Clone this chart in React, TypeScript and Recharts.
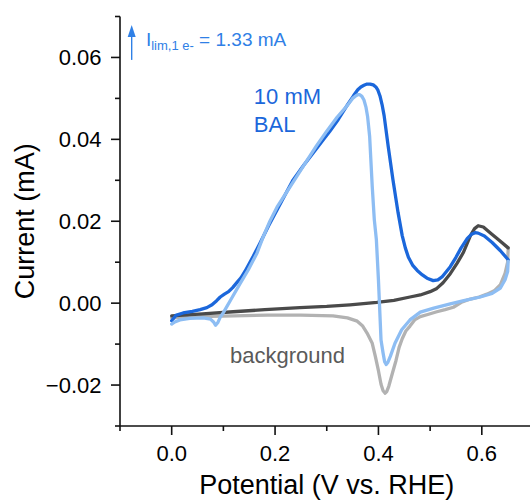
import React from 'react';
import { LineChart, Line, XAxis, YAxis, ReferenceDot } from 'recharts';

// ---- data (potential in V vs. RHE, current in mA) ----
const balForwardV = [0.000, 0.008, 0.022, 0.040, 0.055, 0.068, 0.078, 0.087, 0.094, 0.102, 0.110, 0.118, 0.126, 0.134, 0.142, 0.158, 0.171, 0.187, 0.204, 0.220, 0.235, 0.255, 0.274, 0.294, 0.306, 0.322, 0.340, 0.352, 0.360, 0.366, 0.372, 0.378, 0.384, 0.390, 0.395, 0.399, 0.403, 0.407, 0.411, 0.419, 0.428, 0.438, 0.446, 0.452, 0.458, 0.466, 0.475, 0.485, 0.494, 0.506, 0.515, 0.523, 0.539, 0.550, 0.560, 0.572, 0.580, 0.587, 0.593, 0.605, 0.620, 0.636, 0.651];
const balForwardI = [-0.0043, -0.0030, -0.0024, -0.0020, -0.0016, -0.0011, -0.0004, 0.0006, 0.0015, 0.0022, 0.0028, 0.0038, 0.0050, 0.0062, 0.0078, 0.0115, 0.0147, 0.0188, 0.0228, 0.0266, 0.0301, 0.0336, 0.0367, 0.0400, 0.0420, 0.0448, 0.0484, 0.0507, 0.0521, 0.0528, 0.0532, 0.0535, 0.0535, 0.0533, 0.0528, 0.0520, 0.0506, 0.0485, 0.0458, 0.0382, 0.0302, 0.0221, 0.0165, 0.0135, 0.0112, 0.0093, 0.0080, 0.0069, 0.0061, 0.0055, 0.0057, 0.0064, 0.0089, 0.0112, 0.0135, 0.0158, 0.0168, 0.0172, 0.0171, 0.0164, 0.0148, 0.0128, 0.0106];

const balReverseV = [0.651, 0.650, 0.645, 0.636, 0.620, 0.597, 0.565, 0.539, 0.507, 0.481, 0.461, 0.445, 0.432, 0.423, 0.418, 0.415, 0.412, 0.409, 0.405, 0.400, 0.396, 0.392, 0.388, 0.385, 0.383, 0.379, 0.376, 0.372, 0.368, 0.364, 0.360, 0.356, 0.350, 0.340, 0.320, 0.300, 0.280, 0.255, 0.229, 0.204, 0.190, 0.177, 0.165, 0.148, 0.132, 0.116, 0.100, 0.094, 0.089, 0.085, 0.081, 0.075, 0.061, 0.035, 0.016, 0.006, 0.000];
const balReverseI = [0.0102, 0.0077, 0.0057, 0.0037, 0.0024, 0.0015, 0.0006, -0.0002, -0.0012, -0.0022, -0.0041, -0.0065, -0.0098, -0.0130, -0.0145, -0.0150, -0.0143, -0.0122, -0.0090, 0.0057, 0.0155, 0.0204, 0.0285, 0.0358, 0.0407, 0.0456, 0.0478, 0.0496, 0.0505, 0.0509, 0.0509, 0.0506, 0.0500, 0.0483, 0.0454, 0.0420, 0.0384, 0.0335, 0.0284, 0.0235, 0.0200, 0.0162, 0.0122, 0.0081, 0.0047, 0.0012, -0.0023, -0.0034, -0.0048, -0.0054, -0.0046, -0.0039, -0.0036, -0.0037, -0.0041, -0.0046, -0.0051];

const bgForwardV = [0.000, 0.060, 0.119, 0.180, 0.248, 0.300, 0.345, 0.397, 0.430, 0.461, 0.481, 0.500, 0.513, 0.525, 0.539, 0.552, 0.564, 0.578, 0.586, 0.593, 0.603, 0.616, 0.633, 0.651];
const bgForwardI = [-0.0031, -0.0026, -0.0021, -0.0016, -0.0011, -0.0008, -0.0004, 0.0002, 0.0007, 0.0015, 0.0020, 0.0028, 0.0036, 0.0050, 0.0072, 0.0097, 0.0123, 0.0165, 0.0182, 0.0189, 0.0186, 0.0172, 0.0154, 0.0135];

const bgReverseV = [0.651, 0.650, 0.645, 0.636, 0.624, 0.610, 0.595, 0.578, 0.562, 0.545, 0.529, 0.513, 0.497, 0.481, 0.470, 0.461, 0.453, 0.446, 0.440, 0.434, 0.427, 0.420, 0.416, 0.413, 0.409, 0.405, 0.400, 0.394, 0.388, 0.378, 0.369, 0.359, 0.340, 0.312, 0.250, 0.185, 0.120, 0.055, 0.000];
const bgReverseI = [0.0132, 0.0100, 0.0073, 0.0045, 0.0030, 0.0022, 0.0015, 0.0010, 0.0003, -0.0010, -0.0016, -0.0021, -0.0027, -0.0033, -0.0041, -0.0056, -0.0068, -0.0087, -0.0108, -0.0140, -0.0171, -0.0203, -0.0216, -0.0220, -0.0214, -0.0198, -0.0165, -0.0130, -0.0098, -0.0073, -0.0055, -0.0044, -0.0036, -0.0031, -0.0029, -0.0029, -0.0031, -0.0033, -0.0036];

// ---- ticks ----
const xMajorTicks = [0, 0.2, 0.4, 0.6];
const xMajorLabels = ['0.0', '0.2', '0.4', '0.6'];
const xMinorTicks = [-0.1, 0.1, 0.3, 0.5, 0.7];
const yMajorTicks = [-0.02, 0, 0.02, 0.04, 0.06];
const yMajorLabels = ['\u22120.02', '0.00', '0.02', '0.04', '0.06'];
const yMinorTicks = [-0.03, -0.01, 0.01, 0.03, 0.05, 0.07];

const xDomain = [-0.1, 0.7];
const yDomain = [-0.03, 0.07];

// ---- annotation anchors (data coordinates) ----
const arrowAnchor = { v: -0.0774, i: 0.0594 };
const limAnchor = { v: -0.0498, i: 0.0627 };
const balLine1 = { v: 0.159, i: 0.0486, text: '10 mM' };
const balLine2 = { v: 0.159, i: 0.0418, text: 'BAL' };
const bgLabel = { v: 0.1128, i: -0.0146, text: 'background' };

const FONT = '"Liberation Sans", Arial, Helvetica, sans-serif';
const AX = '#111111';
const AXW = 1.6;
const MAJ = 9;
const MIN = 5;

const C_DARKBLUE = '#1b67db';
const C_LIGHTBLUE = '#8dbdf3';
const C_DARKGRAY = '#4a4a4a';
const C_LIGHTGRAY = '#b2b2b2';
const C_ANNOT = '#2f80e6';

const toPts = (vs: number[], is: number[]) => vs.map((v, k) => ({ v, i: is[k] }));
const balForward = toPts(balForwardV, balForwardI);
const balReverse = toPts(balReverseV, balReverseI);
const bgForward = toPts(bgForwardV, bgForwardI);
const bgReverse = toPts(bgReverseV, bgReverseI);

const allX = [...xMajorTicks, ...xMinorTicks].sort((a, b) => a - b);
const allY = [...yMajorTicks, ...yMinorTicks].sort((a, b) => a - b);

const findLabel = (v: number, majors: number[], labels: string[]) => {
  const k = majors.findIndex((m) => Math.abs(m - v) < 1e-9);
  return k >= 0 ? labels[k] : null;
};

const BottomTick = (p: any) => {
  const lab = findLabel(p.payload.value, xMajorTicks, xMajorLabels);
  const len = lab !== null ? MAJ : MIN;
  return (
    <g>
      <line x1={p.x} x2={p.x} y1={p.y} y2={p.y + len} stroke={AX} strokeWidth={AXW} />
      {lab !== null && (
        <text x={p.x} y={p.y + 35} textAnchor="middle" fontSize={22} fontFamily={FONT} fill="#000">
          {lab}
        </text>
      )}
    </g>
  );
};

const TopTick = (p: any) => {
  const lab = findLabel(p.payload.value, xMajorTicks, xMajorLabels);
  const len = lab !== null ? MAJ : MIN;
  return <line x1={p.x} x2={p.x} y1={p.y} y2={p.y + len} stroke={AX} strokeWidth={AXW} />;
};

const LeftTick = (p: any) => {
  const lab = findLabel(p.payload.value, yMajorTicks, yMajorLabels);
  const len = lab !== null ? MAJ : MIN;
  return (
    <g>
      <line x1={p.x - len} x2={p.x} y1={p.y} y2={p.y} stroke={AX} strokeWidth={AXW} />
      {lab !== null && (
        <text x={p.x - 18.5} y={p.y} dy="0.36em" textAnchor="end" fontSize={22} fontFamily={FONT} fill="#000">
          {lab}
        </text>
      )}
    </g>
  );
};

const RightTick = (p: any) => {
  const lab = findLabel(p.payload.value, yMajorTicks, yMajorLabels);
  const len = lab !== null ? MAJ : MIN;
  return <line x1={p.x - len} x2={p.x} y1={p.y} y2={p.y} stroke={AX} strokeWidth={AXW} />;
};

const YTitle = (p: any) => {
  const vb = p.viewBox;
  const cx = vb.x + 34;
  const cy = vb.y + vb.height / 2;
  return (
    <text x={cx} y={cy} transform={`rotate(-90 ${cx} ${cy})`} textAnchor="middle" fontSize={27} fontFamily={FONT} fill="#000">
      Current (mA)
    </text>
  );
};

const XTitle = (p: any) => {
  const vb = p.viewBox;
  return (
    <text x={vb.x + vb.width / 2} y={vb.y + 68} textAnchor="middle" fontSize={27} fontFamily={FONT} fill="#000">
      Potential (V vs. RHE)
    </text>
  );
};

const ArrowShape = (p: any) => (
  <g>
    <line x1={p.cx} x2={p.cx} y1={p.cy} y2={p.cy - 24} stroke={C_ANNOT} strokeWidth={1.4} />
    <polygon points={`${p.cx},${p.cy - 35} ${p.cx - 4},${p.cy - 23} ${p.cx + 4},${p.cy - 23}`} fill={C_ANNOT} />
  </g>
);

const LimShape = (p: any) => (
  <text x={p.cx} y={p.cy} fontFamily={FONT} fill={C_ANNOT} fontSize={19}>
    I
    <tspan fontSize={13} dy={4}>lim,1 e-</tspan>
    <tspan fontSize={19} dy={-4}>{' = 1.33 mA'}</tspan>
  </text>
);

const textShape = (content: string, color: string, size: number) => (p: any) => (
  <text x={p.cx} y={p.cy} fontFamily={FONT} fill={color} fontSize={size}>
    {content}
  </text>
);

export default function App() {
  return (
    <div style={{ position: 'absolute', left: 0, top: 0, width: 530, height: 500, overflow: 'hidden', background: '#fff' }}>
      <LineChart width={540} height={500} margin={{ top: 16.5, right: 6.5, bottom: 0, left: 0 }}>
        <XAxis
          xAxisId="b"
          type="number"
          dataKey="v"
          domain={xDomain}
          allowDataOverflow
          ticks={allX}
          interval={0}
          height={74}
          tickSize={0}
          tickMargin={0}
          tickLine={false}
          axisLine={{ stroke: AX, strokeWidth: AXW }}
          tick={BottomTick}
          label={{ value: 'Potential (V vs. RHE)', content: XTitle }}
        />
        <XAxis
          xAxisId="t"
          orientation="top"
          type="number"
          dataKey="v"
          domain={xDomain}
          allowDataOverflow
          ticks={allX}
          interval={0}
          height={0}
          tickSize={0}
          tickMargin={0}
          tickLine={false}
          axisLine={{ stroke: AX, strokeWidth: AXW }}
          tick={TopTick}
        />
        <YAxis
          yAxisId="l"
          type="number"
          domain={yDomain}
          allowDataOverflow
          ticks={allY}
          interval={0}
          width={120}
          tickSize={0}
          tickMargin={0}
          tickLine={false}
          axisLine={{ stroke: AX, strokeWidth: AXW }}
          tick={LeftTick}
          label={{ value: 'Current (mA)', content: YTitle }}
        />
        <YAxis
          yAxisId="r"
          orientation="right"
          type="number"
          domain={yDomain}
          allowDataOverflow
          ticks={allY}
          interval={0}
          width={0}
          tickSize={0}
          tickMargin={0}
          tickLine={false}
          axisLine={{ stroke: AX, strokeWidth: AXW }}
          tick={RightTick}
        />
        <Line xAxisId="b" yAxisId="l" data={bgReverse} dataKey="i" type="linear" stroke={C_LIGHTGRAY} strokeWidth={3.3} dot={false} isAnimationActive={false} strokeLinejoin="round" strokeLinecap="round" />
        <Line xAxisId="b" yAxisId="l" data={bgForward} dataKey="i" type="linear" stroke={C_DARKGRAY} strokeWidth={3.3} dot={false} isAnimationActive={false} strokeLinejoin="round" strokeLinecap="round" />
        <Line xAxisId="b" yAxisId="l" data={balForward} dataKey="i" type="linear" stroke={C_DARKBLUE} strokeWidth={3.3} dot={false} isAnimationActive={false} strokeLinejoin="round" strokeLinecap="round" />
        <Line xAxisId="b" yAxisId="l" data={balReverse} dataKey="i" type="linear" stroke={C_LIGHTBLUE} strokeWidth={3.3} dot={false} isAnimationActive={false} strokeLinejoin="round" strokeLinecap="round" />
        <ReferenceDot xAxisId="b" yAxisId="l" x={arrowAnchor.v} y={arrowAnchor.i} r={0} shape={ArrowShape} />
        <ReferenceDot xAxisId="b" yAxisId="l" x={limAnchor.v} y={limAnchor.i} r={0} shape={LimShape} />
        <ReferenceDot xAxisId="b" yAxisId="l" x={balLine1.v} y={balLine1.i} r={0} shape={textShape(balLine1.text, C_DARKBLUE, 22)} />
        <ReferenceDot xAxisId="b" yAxisId="l" x={balLine2.v} y={balLine2.i} r={0} shape={textShape(balLine2.text, C_DARKBLUE, 22)} />
        <ReferenceDot xAxisId="b" yAxisId="l" x={bgLabel.v} y={bgLabel.i} r={0} shape={textShape(bgLabel.text, '#5a5a5a', 22)} />
      </LineChart>
    </div>
  );
}
